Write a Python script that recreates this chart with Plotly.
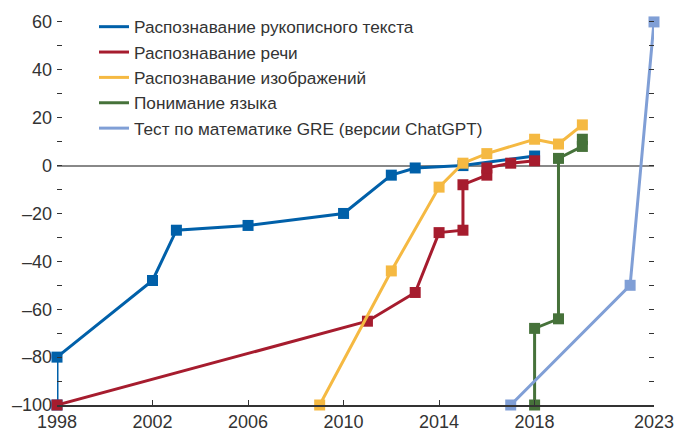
import plotly.graph_objects as go

# годы и значения (относительно человеческого уровня = 0)
hand_x = [1998, 1998, 2002, 2003, 2006, 2010, 2012, 2013, 2015, 2018]
hand_y = [-100, -80, -48, -27, -25, -20, -4, -1, 0, 4]

speech_x = [1998, 2011, 2013, 2014, 2015, 2015, 2016, 2016, 2017, 2018]
speech_y = [-100, -65, -53, -28, -27, -8, -4, -1, 1, 2]

image_x = [2009, 2012, 2014, 2015, 2016, 2018, 2019, 2020]
image_y = [-100, -44, -9, 1, 5, 11, 9, 17]

lang_x = [2018, 2018, 2019, 2019, 2020, 2020]
lang_y = [-100, -68, -64, 3, 8, 11]

gre_x = [2017, 2022, 2023]
gre_y = [-100, -50, 60]

names = ["Распознавание рукописного текста",
         "Распознавание речи",
         "Распознавание изображений",
         "Понимание языка",
         "Тест по математике GRE (версии ChatGPT)"]
colors = ["#0060A9", "#A61C2E", "#F5B942", "#46723A", "#809FD6"]

xtick_vals = [1998, 2002, 2006, 2010, 2014, 2018, 2023]
ytick_vals = list(range(-100, 61, 10))
ytick_text = [("–" + str(-v) if v < 0 else str(v)) if v % 20 == 0 else "" for v in ytick_vals]

series = [(hand_x, hand_y), (speech_x, speech_y), (image_x, image_y),
          (lang_x, lang_y), (gre_x, gre_y)]

fig = go.Figure()
for (xs, ys), name, c in zip(series, names, colors):
    fig.add_trace(go.Scatter(x=xs, y=ys, name=name, mode="lines+markers",
                             line=dict(color=c, width=3),
                             marker=dict(symbol="square", size=11, color=c),
                             cliponaxis=False, showlegend=False))
# легенда только линиями
for name, c in zip(names, colors):
    fig.add_trace(go.Scatter(x=[None], y=[None], name=name, mode="lines",
                             line=dict(color=c, width=3)))

tickfont = dict(family="Liberation Sans, Arial", size=18, color="#333333")

fig.update_layout(
    width=674, height=433,
    margin=dict(l=57, r=20, t=9, b=28),
    paper_bgcolor="white", plot_bgcolor="white",
    font=dict(family="Liberation Sans, Arial", size=17, color="#333333"),
    showlegend=True,
    legend=dict(x=0.062, y=1.0, xanchor="left", yanchor="top",
                bgcolor="rgba(0,0,0,0)", font=dict(size=17.2),
                tracegroupgap=0),
    xaxis=dict(range=[1998, 2023], tickvals=xtick_vals, ticks="inside", ticklen=5,
               tickcolor="#333333", tickfont=tickfont, automargin=False,
               ticklabeloverflow="allow",
               showline=True, linecolor="#333333", linewidth=1.5,
               showgrid=False, zeroline=False),
    yaxis=dict(range=[-100, 65.4], tickvals=ytick_vals, ticktext=ytick_text,
               ticks="inside", ticklen=5, tickcolor="#333333", mirror="ticks",
               tickfont=tickfont, automargin=False, ticklabelstandoff=4,
               ticklabeloverflow="allow",
               showline=False, showgrid=False,
               zeroline=True, zerolinecolor="#888888", zerolinewidth=1.5),
)

fig.write_html("out.html", config={"displayModeBar": False},
               post_script="document.body.style.margin='0px';")
